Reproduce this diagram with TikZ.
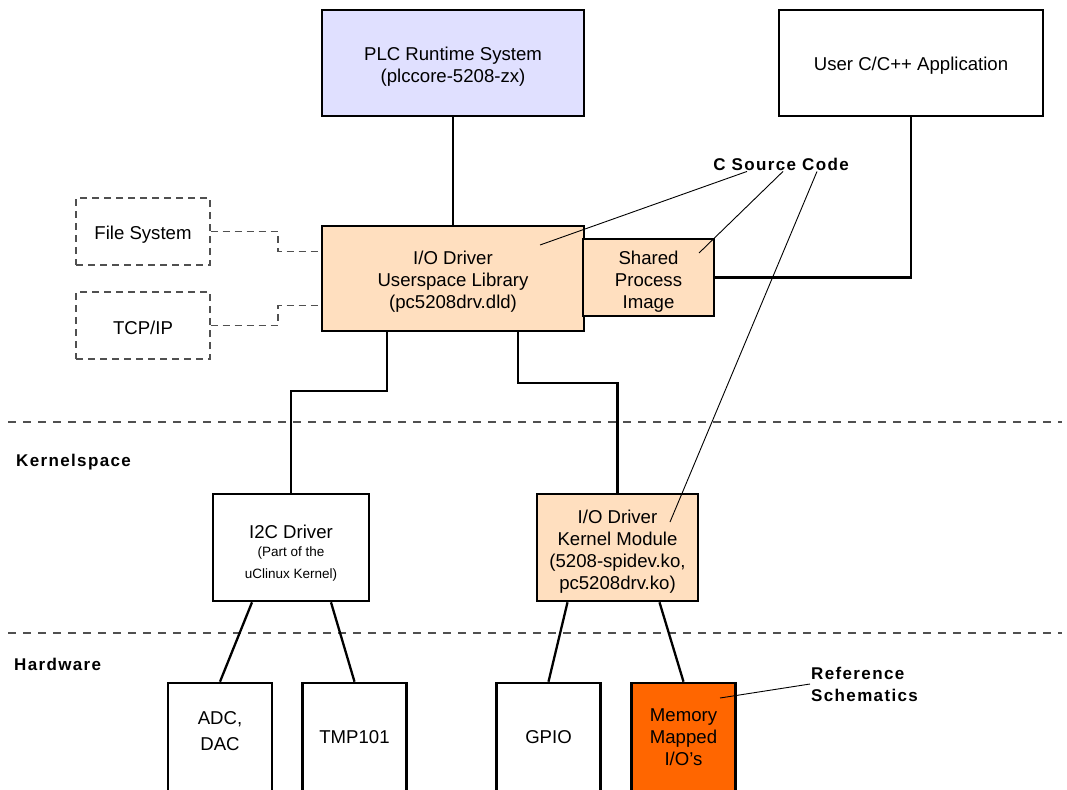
\documentclass[tikz,border=0pt]{standalone}
\usepackage{fontspec}
\setmainfont{Liberation Sans}
\newfontfamily\lblfont[LetterSpace=8]{Liberation Sans}
\usetikzlibrary{calc}
\definecolor{lav}{HTML}{E0E0FF}
\definecolor{peach}{HTML}{FFDFBF}
\definecolor{orng}{HTML}{FF6600}
\definecolor{dgray}{HTML}{505050}
\newcommand{\smtxt}{\fontsize{13.5}{20}\selectfont}
\begin{document}
\begin{tikzpicture}[x=1pt,y=-1pt,
  txt/.style={inner sep=0pt,align=center,font=\fontsize{18.6}{22}\selectfont},
  box/.style={draw=black,line width=2.6pt,inner sep=0pt},
  dbox/.style={draw=dgray,line width=1.3pt,dash pattern=on 7pt off 5pt,inner sep=0pt,
    minimum width=134pt,minimum height=67pt},
  hwbox/.style={box,minimum width=104pt,minimum height=112pt},
  conn/.style={draw=black,line width=2.3pt},
  dconn/.style={draw=dgray,line width=1.3pt,dash pattern=on 7pt off 5pt},
  sepline/.style={draw=dgray,line width=1.1pt,dash pattern=on 8pt off 7pt},
  leader/.style={draw=black,line width=0.9pt},
  lbl/.style={inner sep=1pt,font=\lblfont\bfseries\fontsize{17}{22}\selectfont}]
\useasboundingbox (0,0) rectangle (1067,789);
\clip (0,0) rectangle (1067,789);
\fill[white] (0,0) rectangle (1067,789);

% separators
\draw[sepline] (8,422) -- (1062,422);
\draw[sepline] (8,633) -- (1062,633);

% boxes
\node[box,fill=lav,minimum width=262pt,minimum height=106pt] (plc) at (453,63) {};
\node[box,fill=white,minimum width=264pt,minimum height=106pt] (app) at (911,63) {};
\node[box,fill=peach,minimum width=262pt,minimum height=105pt] (lib) at (453,278.5) {};
\node[box,fill=peach,minimum width=131pt,minimum height=77pt] (spi) at (648.5,277.5) {};
\node[dbox] (fs) at (143,231.5) {};
\node[dbox] (tcp) at (143,325.5) {};
\node[box,fill=white,minimum width=156pt,minimum height=107pt] (i2c) at (291,547.5) {};
\node[box,fill=peach,minimum width=161pt,minimum height=107pt] (km) at (617.5,547.5) {};
\node[hwbox,fill=white] (adc) at (220,739) {};
\node[hwbox,fill=white] (tmp) at (354.5,739) {};
\node[hwbox,fill=white] (gpio) at (548.5,739) {};
\node[hwbox,fill=orng] (mem) at (683.5,739) {};

% box texts
\node[txt] (plc-t) at ($(plc.center)+(0,4)$) {PLC Runtime System\\(plccore-5208-zx)};
\node[txt] (app-t) at ($(app.center)+(0,3)$) {User C/C++ Application};
\node[txt] (lib-t) at ($(lib.center)+(0,3)$) {I/O Driver\\Userspace Library\\(pc5208drv.dld)};
\node[txt] (spi-t) at ($(spi.center)+(0,4)$) {Shared\\Process\\Image};
\node[txt] (fs-t) at ($(fs.center)+(0,3)$) {File System};
\node[txt] (tcp-t) at ($(tcp.center)+(0,2)$) {TCP/IP};
\node[txt] (i2c-t) at ($(i2c.center)+(0,6)$) {I2C Driver\\[-4pt]\smtxt (Part of the\\\smtxt uClinux Kernel)};
\node[txt] (km-t) at ($(km.center)+(0,4.5)$) {I/O Driver\\Kernel Module\\(5208-spidev.ko,\\pc5208drv.ko)};
\node[txt,font=\fontsize{18.6}{26}\selectfont] (adc-t) at ($(adc.center)+(0,-8)$) {ADC,\\DAC};
\node[txt] (tmp-t) at ($(tmp.center)+(0,-2)$) {TMP101};
\node[txt] (gpio-t) at ($(gpio.center)+(0,-2)$) {GPIO};
\node[txt] (mem-t) at ($(mem.center)+(0,-1.5)$) {Memory\\Mapped\\I/O's};

% connectors
\draw[conn] (plc.south) -- (lib.north);
\draw[conn] (app.south) |- (spi.east);
\draw[dconn] (fs.east) -- (278,231.5) |- ($(lib.north west)!0.25!(lib.south west)$);
\draw[dconn] (tcp.east) -- (278,325.5) |- ($(lib.north west)!0.75!(lib.south west)$);
\draw[conn] ($(lib.south)+(-66,0)$) -- ++(0,59) -| (i2c.north);
\draw[conn] ($(lib.south)+(65,0)$) -- ++(0,51) -| (km.north);
\draw[conn] ($(i2c.south)+(-39,0)$) -- (adc.north);
\draw[conn] ($(i2c.south)+(40,0)$) -- (tmp.north);
\draw[conn] ($(km.south)+(-50,0)$) -- (gpio.north);
\draw[conn] ($(km.south)+(42,0)$) -- (mem.north);

% labels
\node[lbl] (csc) at (781,164) {C Source Code};
\node[lbl,anchor=west,align=left] (rs) at (810,684) {Reference\\Schematics};
\node[lbl,anchor=west] (ks) at (15,462) {Kernelspace};
\node[lbl,anchor=west] (hw) at (13,664) {Hardware};

\coordinate (t1) at (540,245);
\coordinate (t2) at (699,253);
\coordinate (t3) at (670,522);
\coordinate (t4) at (720,698);
\draw[leader] ($(csc.south)+(-34,0)$) -- (t1);
\draw[leader] ($(csc.south)+(2,0)$) -- (t2);
\draw[leader] ($(csc.south)+(36,0)$) -- (t3);
\draw[leader] (rs.west) -- (t4);
\end{tikzpicture}
\end{document}
